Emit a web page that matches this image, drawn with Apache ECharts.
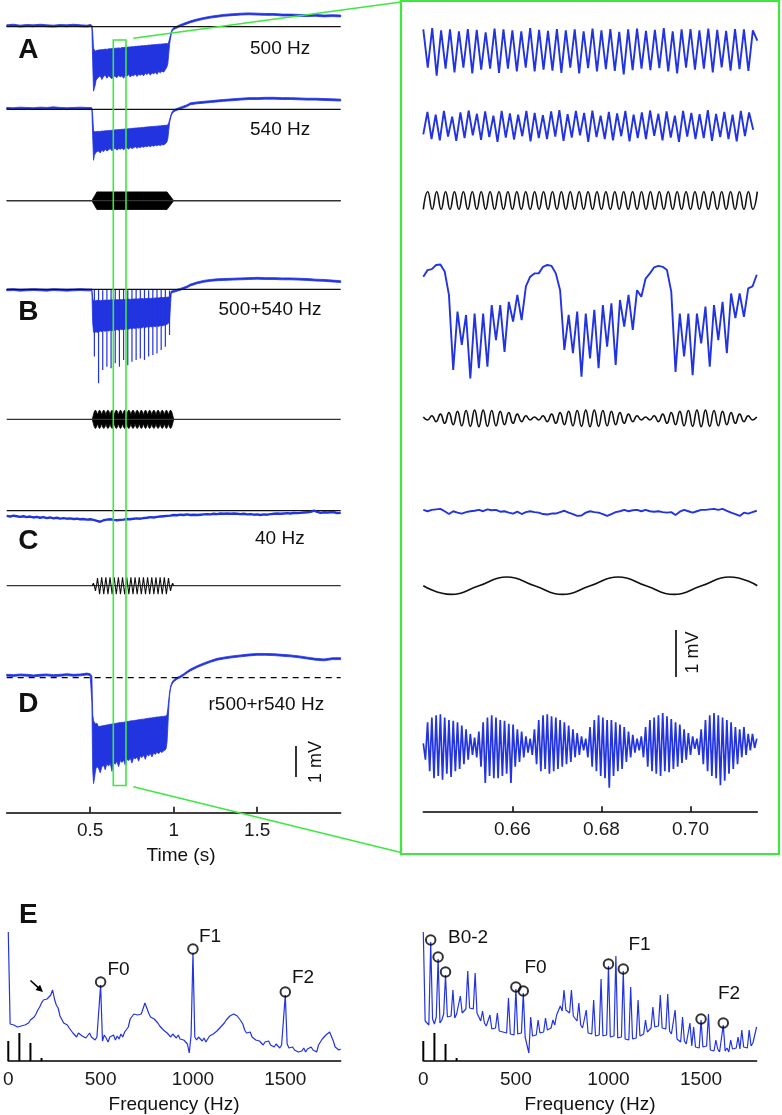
<!DOCTYPE html>
<html>
<head>
<meta charset="utf-8">
<title>Responses to 500 / 540 Hz tones</title>
<script src="https://cdn.jsdelivr.net/npm/echarts@6/dist/echarts.min.js"></script>
<style>
html,body{margin:0;padding:0;background:#fff;}
#chart{width:782px;height:1115px;}
</style>
</head>
<body>
<div id="chart"></div>
<script>
// ======================= DATA =======================
// Whole-trial traces (left column): time in s, voltage in mV re. baseline.
// hi / lo = upper and lower edge of the (dense) trace at each time.
const leftT = [0,0.04,0.08,0.12,0.16,0.2,0.24,0.28,0.32,0.36,0.4,0.44,0.48,0.5,
  0.51,0.515,0.52,0.525,0.53,0.535,0.54,
  0.55,0.56,0.57,0.58,0.59,0.6,0.61,0.62,0.63,0.64,0.65,0.66,0.67,0.68,0.69,0.7,0.71,0.72,0.73,0.74,0.75,0.76,0.77,0.78,0.79,0.8,0.81,0.82,0.83,0.84,0.85,0.86,0.87,0.88,0.89,0.9,0.91,0.92,0.93,0.94,0.95,
  0.955,0.96,0.965,0.97,0.975,0.98,0.985,0.99,
  1,1.02,1.04,1.06,1.08,1.1,1.14,1.18,1.22,1.26,1.3,1.35,1.4,1.45,1.5,1.55,1.6,1.65,1.7,1.75,1.8,1.85,1.9,1.95,2];

const a500Hi = [0.06,0.08,0.05,0.07,0.06,0.08,0.06,0.05,0.07,0.06,0.08,0.06,0.05,0.07,
  0.05,-0.2,-0.7,-0.75,-0.8,-0.78,-0.77,
  -0.76,-0.75,-0.75,-0.74,-0.73,-0.74,-0.72,-0.72,-0.71,-0.71,-0.70,-0.70,-0.69,-0.70,-0.68,-0.68,-0.67,-0.67,-0.66,-0.66,-0.65,-0.65,-0.64,-0.64,-0.63,-0.63,-0.62,-0.62,-0.61,-0.61,-0.60,-0.60,-0.59,-0.59,-0.58,-0.58,-0.57,-0.57,-0.56,-0.56,-0.55,
  -0.55,-0.55,-0.56,-0.5,-0.4,-0.28,-0.18,-0.1,
  -0.03,0.02,0.07,0.11,0.15,0.19,0.25,0.3,0.34,0.37,0.4,0.42,0.44,0.45,0.44,0.43,0.43,0.41,0.41,0.4,0.39,0.4,0.38,0.39,0.38];
const a500Lo = [0,0.02,-0.01,0.01,0,0.02,0,-0.01,0.01,0,0.02,0,-0.01,0.01,
  0,-1.2,-2.1,-2,-1.9,-1.75,-1.7,
  -1.65,-1.60,-1.72,-1.62,-1.58,-1.68,-1.60,-1.64,-1.70,-1.60,-1.62,-1.66,-1.58,-1.64,-1.60,-1.68,-1.58,-1.62,-1.56,-1.64,-1.58,-1.60,-1.55,-1.62,-1.56,-1.58,-1.54,-1.60,-1.52,-1.56,-1.50,-1.58,-1.50,-1.54,-1.48,-1.55,-1.46,-1.50,-1.45,-1.48,-1.40,
  -1.35,-1.3,-1.2,-0.9,-0.6,-0.4,-0.26,-0.16,
  -0.09,-0.04,0.01,0.05,0.09,0.13,0.19,0.24,0.28,0.31,0.34,0.36,0.38,0.39,0.38,0.37,0.37,0.35,0.35,0.34,0.33,0.34,0.32,0.33,0.32];

const a540Hi = [0.06,0.05,0.07,0.06,0.05,0.07,0.06,0.08,0.06,0.05,0.06,0.07,0.06,0.06,
  0.05,-0.2,-0.7,-0.72,-0.73,-0.73,-0.72,
  -0.72,-0.72,-0.71,-0.71,-0.70,-0.70,-0.69,-0.69,-0.68,-0.68,-0.67,-0.67,-0.66,-0.66,-0.65,-0.65,-0.64,-0.64,-0.63,-0.63,-0.62,-0.62,-0.61,-0.61,-0.60,-0.60,-0.59,-0.59,-0.58,-0.58,-0.57,-0.57,-0.56,-0.56,-0.55,-0.55,-0.54,-0.54,-0.53,-0.53,-0.52,
  -0.52,-0.52,-0.5,-0.45,-0.35,-0.25,-0.16,-0.09,
  -0.02,0.03,0.07,0.11,0.15,0.21,0.24,0.26,0.28,0.3,0.32,0.34,0.36,0.38,0.38,0.39,0.39,0.38,0.38,0.37,0.36,0.36,0.35,0.34,0.33];
const a540Lo = [0,-0.01,0.01,0,-0.01,0.01,0,0.02,0,-0.01,0,0.01,0,0,
  0,-0.9,-1.66,-1.5,-1.45,-1.4,-1.38,
  -1.36,-1.42,-1.33,-1.38,-1.30,-1.36,-1.32,-1.28,-1.35,-1.30,-1.27,-1.33,-1.28,-1.30,-1.26,-1.32,-1.27,-1.25,-1.30,-1.24,-1.28,-1.25,-1.22,-1.27,-1.23,-1.25,-1.21,-1.24,-1.20,-1.22,-1.19,-1.22,-1.18,-1.20,-1.17,-1.19,-1.16,-1.18,-1.15,-1.16,-1.12,
  -1.1,-1.05,-0.95,-0.7,-0.45,-0.32,-0.22,-0.15,
  -0.08,-0.03,0.01,0.05,0.09,0.15,0.18,0.2,0.22,0.24,0.26,0.28,0.3,0.32,0.32,0.33,0.33,0.32,0.32,0.31,0.3,0.3,0.29,0.28,0.27];

const bHi = [0.01,0.02,0,0.01,0.02,0.01,0,0.02,0.01,0,0.01,0.02,0.01,0.01,
  0.01,-0.3,-0.38,-0.38,-0.37,-0.37,-0.36,
  -0.36,-0.37,-0.36,-0.36,-0.35,-0.36,-0.35,-0.35,-0.34,-0.35,-0.34,-0.34,-0.34,-0.33,-0.34,-0.33,-0.33,-0.33,-0.32,-0.33,-0.32,-0.32,-0.31,-0.32,-0.31,-0.31,-0.30,-0.31,-0.30,-0.30,-0.29,-0.30,-0.29,-0.29,-0.28,-0.28,-0.28,-0.27,-0.27,-0.27,-0.26,
  -0.26,-0.26,-0.25,-0.25,-0.24,-0.15,-0.06,-0.05,
  -0.04,0,0.03,0.07,0.11,0.17,0.24,0.29,0.32,0.34,0.35,0.36,0.37,0.38,0.39,0.38,0.38,0.37,0.37,0.36,0.35,0.33,0.32,0.3,0.28];
const bLo = [-0.05,-0.04,-0.06,-0.05,-0.04,-0.05,-0.06,-0.04,-0.05,-0.06,-0.05,-0.04,-0.05,-0.05,
  -0.05,-1.1,-1.4,-1.42,-1.4,-1.38,-1.4,
  -1.40,-1.36,-1.38,-1.35,-1.37,-1.34,-1.36,-1.33,-1.35,-1.32,-1.34,-1.31,-1.33,-1.30,-1.32,-1.29,-1.31,-1.28,-1.30,-1.27,-1.29,-1.26,-1.28,-1.25,-1.27,-1.24,-1.26,-1.23,-1.25,-1.22,-1.24,-1.21,-1.23,-1.20,-1.22,-1.19,-1.21,-1.18,-1.20,-1.17,-1.16,
  -1.15,-1.14,-1.12,-1.1,-1,-0.6,-0.15,-0.11,
  -0.1,-0.06,-0.03,0.01,0.05,0.11,0.18,0.23,0.26,0.28,0.29,0.3,0.31,0.32,0.33,0.32,0.32,0.31,0.31,0.3,0.29,0.27,0.26,0.24,0.22];
// B: one deep spike per 40 Hz beat
const bTeethT = [0.525,0.55,0.575,0.6,0.625,0.65,0.675,0.7,0.725,0.75,0.775,0.8,0.825,0.85,0.875,0.9,0.925,0.95,0.975];
const bTeethTop = [-0.02,0,-0.03,-0.01,-0.02,0,-0.02,-0.01,-0.03,-0.02,0,-0.01,-0.02,-0.03,-0.01,-0.02,0,-0.02,-0.04];
const bTeethDeep = [-2.19,-3.06,-2.63,-2.52,-2.57,-2.41,-2.52,-2.30,-2.47,-2.36,-2.30,-2.25,-2.30,-2.19,-2.14,-2.09,-1.98,-1.87,-1.49];

const dHi = [0.11,0.1,0.12,0.11,0.09,0.11,0.12,0.1,0.11,0.13,0.11,0.12,0.15,0.13,
  0.05,-1.2,-1.4,-1.45,-1.5,-1.5,-1.48,
  -1.60,-1.58,-1.57,-1.56,-1.55,-1.54,-1.53,-1.52,-1.51,-1.50,-1.49,-1.48,-1.47,-1.46,-1.46,-1.45,-1.44,-1.43,-1.42,-1.41,-1.40,-1.40,-1.39,-1.38,-1.37,-1.36,-1.35,-1.35,-1.34,-1.33,-1.32,-1.31,-1.31,-1.30,-1.29,-1.28,-1.28,-1.27,-1.26,-1.26,-1.25,
  -1.25,-1.2,-1,-0.75,-0.5,-0.32,-0.22,-0.15,
  -0.07,0.01,0.06,0.13,0.21,0.28,0.39,0.48,0.56,0.63,0.67,0.71,0.74,0.77,0.79,0.79,0.78,0.76,0.74,0.71,0.67,0.63,0.61,0.65,0.65];
const dLo = [0.05,0.04,0.06,0.05,0.03,0.05,0.06,0.04,0.05,0.07,0.05,0.06,0.09,0.07,
  -0.8,-3,-3.45,-3.3,-3.1,-2.95,-2.9,
  -2.95,-3.10,-2.90,-2.85,-3.00,-2.80,-2.88,-2.78,-3.05,-2.75,-2.82,-2.72,-2.90,-2.70,-2.76,-2.68,-2.85,-2.66,-2.70,-2.62,-2.78,-2.60,-2.65,-2.58,-2.72,-2.55,-2.60,-2.52,-2.66,-2.50,-2.55,-2.47,-2.58,-2.45,-2.50,-2.42,-2.48,-2.40,-2.44,-2.38,-2.35,
  -2.3,-2.1,-1.6,-1,-0.6,-0.38,-0.28,-0.21,
  -0.13,-0.05,0,0.07,0.15,0.22,0.33,0.42,0.5,0.57,0.61,0.65,0.68,0.71,0.73,0.73,0.72,0.7,0.68,0.65,0.61,0.57,0.55,0.59,0.59];

// C (40 Hz): slow trace sampled every 20 ms from t = 0
const cStep = 0.02;
const cTrace = [-0.17,-0.19,-0.16,-0.18,-0.20,-0.18,-0.21,-0.19,-0.22,-0.20,
  -0.23,-0.21,-0.24,-0.22,-0.25,-0.23,-0.26,-0.24,-0.26,-0.25,
  -0.27,-0.26,-0.28,-0.27,-0.29,-0.28,-0.30,-0.33,-0.36,-0.31,
  -0.29,-0.28,-0.30,-0.31,-0.30,-0.29,-0.27,-0.28,-0.26,-0.25,
  -0.26,-0.24,-0.23,-0.21,-0.22,-0.20,-0.19,-0.18,-0.17,-0.16,
  -0.14,-0.15,-0.13,-0.14,-0.12,-0.14,-0.13,-0.14,-0.13,-0.12,
  -0.11,-0.12,-0.10,-0.11,-0.09,-0.10,-0.09,-0.10,-0.09,-0.10,
  -0.11,-0.10,-0.12,-0.11,-0.13,-0.12,-0.14,-0.12,-0.13,-0.11,
  -0.10,-0.09,-0.10,-0.09,-0.08,-0.09,-0.07,-0.08,-0.07,-0.06,
  -0.05,-0.04,0.00,-0.04,-0.07,-0.05,-0.06,-0.05,-0.05,-0.08,-0.07];

// Stimulus waveforms (arbitrary units)
const stimAT = [0,0.51,0.54,0.96,1.0,2.0];
const stimAEnv = [0,0,1,1,0,0];
const stimBT0 = 0.5125, stimBStep = 0.00625;
const stimBEnv = [0,
  0.45,0.85,1,0.85, 0.45,0.85,1,0.85, 0.45,0.85,1,0.85, 0.45,0.85,1,0.85, 0.45,0.85,1,0.85,
  0.45,0.85,1,0.85, 0.45,0.85,1,0.85, 0.45,0.85,1,0.85, 0.45,0.85,1,0.85, 0.45,0.85,1,0.85,
  0.45,0.85,1,0.85, 0.45,0.85,1,0.85, 0.45,0.85,1,0.85, 0.45,0.85,1,0.85, 0.45,0.85,1,0.85,
  0.45,0.85,1,0.85, 0.45,0.85,1,0.85, 0.45,0.85,1,0.85, 0.45,0.85,1,0.85,
  0.45,0];
const stimCT0 = 0.5125, stimCStep = 0.00625;
const stimCWave = [0,0.3,0,-0.6,0,0.9,0,-1,0,1,0,-1,0,1,0,-1,0,1,0,-1,0,1,0,-1,0,1,0,-1,0,1,0,-1,0,1,0,-1,0,1,0,-1,
  0,1,0,-1,0,1,0,-1,0,1,0,-1,0,1,0,-1,0,1,0,-1,0,1,0,-1,0,1,0,-1,0,1,0,-1,0,0.9,0,-0.6,0,0.3,0];

// Zoomed window (right column), starting at 0.640 s
const zoomT0 = 0.640;
const zA500Step = 0.001;
const zA500 = [0.44,-0.38,0.47,-0.55,0.42,-0.40,0.44,-0.48,0.40,-0.38,0.45,-0.50,0.43,-0.42,0.38,-0.40,0.46,-0.49,0.44,-0.40,
  0.42,-0.46,0.40,-0.38,0.47,-0.46,0.43,-0.42,0.41,-0.44,0.45,-0.49,0.42,-0.38,0.44,-0.50,0.40,-0.39,0.46,-0.46,
  0.42,-0.41,0.45,-0.45,0.39,-0.52,0.44,-0.43,0.46,-0.40,0.41,-0.43,0.43,-0.39,0.47,-0.46,0.40,-0.50,0.44,-0.38,
  0.45,-0.42,0.42,-0.40,0.46,-0.48,0.43,-0.37,0.41,-0.44,0.45,-0.41,0.44,-0.45,0.42,0.2];
const zA540Step = 0.000926;
const zA540 = [-0.20,0.28,-0.30,0.22,-0.33,0.30,-0.25,0.18,-0.34,0.27,-0.28,0.31,-0.22,0.24,-0.32,0.29,-0.26,0.20,-0.36,0.30,
  -0.27,0.25,-0.31,0.22,-0.24,0.30,-0.35,0.26,-0.28,0.21,-0.30,0.29,-0.25,0.32,-0.34,0.23,-0.27,0.30,-0.22,0.26,
  -0.36,0.31,-0.26,0.20,-0.30,0.28,-0.33,0.25,-0.24,0.30,-0.35,0.22,-0.28,0.27,-0.30,0.31,-0.23,0.24,-0.33,0.29,
  -0.27,0.20,-0.36,0.30,-0.25,0.26,-0.30,0.23,-0.28,0.32,-0.34,0.24,-0.26,0.28,-0.30,0.22,-0.35,0.30,-0.24,0.27,-0.1];
const zStimAStep = 0.001;
const zStimA = [-1,1,-1,1,-1,1,-1,1,-1,1,-1,1,-1,1,-1,1,-1,1,-1,1,-1,1,-1,1,-1,1,-1,1,-1,1,-1,1,-1,1,-1,1,-1,1,
  -1,1,-1,1,-1,1,-1,1,-1,1,-1,1,-1,1,-1,1,-1,1,-1,1,-1,1,-1,1,-1,1,-1,1,-1,1,-1,1,-1,1,-1,1,-1,1];
const zBStep = 0.00096;
const zB = [0.50,0.64,0.66,0.75,0.76,0.61,0.11,-1.50,-0.25,-0.96,
  -0.32,-1.68,-0.29,-1.46,-0.29,-1.43,-0.11,-0.86,-0.11,-1.11,
  -0.04,-0.46,0.11,-0.43,0.29,0.50,0.57,0.57,0.71,0.75,
  0.73,0.57,0.21,-1.07,-0.32,-1.14,-0.25,-1.64,-0.29,-1.25,
  -0.21,-1.46,-0.11,-1.00,-0.07,-1.39,0.00,-0.57,0.11,-0.64,
  0.21,0.07,0.46,0.57,0.70,0.73,0.71,0.64,0.18,-1.54,
  -0.29,-1.21,-0.29,-1.61,-0.29,-0.93,-0.14,-1.43,-0.11,-0.86,
  -0.04,-1.14,0.14,-0.39,0.14,-0.36,0.25,0.29,0.54];
const zStimBStep = 0.00096;
const zStimB = [0.15,-0.2,0.3,-0.4,0.5,-0.6,0.68,-0.76,0.83,-0.9,0.94,-0.97,0.99,-1,0.99,-0.97,0.94,-0.9,0.83,-0.76,0.68,-0.6,0.5,-0.4,0.3,-0.2,
  0.15,-0.2,0.3,-0.4,0.5,-0.6,0.68,-0.76,0.83,-0.9,0.94,-0.97,0.99,-1,0.99,-0.97,0.94,-0.9,0.83,-0.76,0.68,-0.6,0.5,-0.4,0.3,-0.2,
  0.15,-0.2,0.3,-0.4,0.5,-0.6,0.68,-0.76,0.83,-0.9,0.94,-0.97,0.99,-1,0.99,-0.97,0.94,-0.9,0.83,-0.76,0.68,-0.6,0.5,-0.4,0.3,-0.2,
  0.15];
const zCStep = 0.00096;
const zC = [0.04,0.01,0.04,0.05,0.06,0.01,-0.05,0.01,-0.02,-0.04,
  -0.01,0.01,0.02,0.04,0.01,0.05,0.03,0.04,0.00,0.01,
  -0.02,-0.04,0.00,-0.05,-0.01,0.01,-0.01,-0.02,-0.05,-0.06,
  -0.04,-0.04,-0.01,0.02,-0.02,-0.05,-0.09,-0.08,-0.02,0.01,
  -0.01,-0.02,-0.05,-0.09,-0.05,-0.01,0.01,0.04,0.01,0.03,
  0.04,0.01,0.04,0.01,0.00,0.01,-0.01,-0.02,-0.01,-0.07,
  0.00,0.04,0.01,-0.02,0.01,0.04,0.04,0.05,0.06,0.04,
  0.06,0.02,-0.02,-0.05,-0.09,-0.02,-0.04,-0.01,0.02];
const zStimCStep = 0.00625;
const zStimC = [0,-1,0,1,0,-1,0,1,0,-1,0,1,0];
const zDStep = 0.00048;
const zD = [0.0,-0.35,0.45,-0.6,0.55,-0.75,0.6,-0.7,0.62,-0.78,
  0.55,-0.65,0.5,-0.72,0.48,-0.6,0.45,-0.55,0.38,-0.45,
  0.3,-0.35,0.2,-0.25,0.12,-0.3,0.25,-0.5,0.45,-0.85,
  0.55,-0.7,0.6,-0.75,0.55,-0.75,0.5,-0.7,0.48,-0.65,
  0.42,-0.85,0.4,-0.5,0.3,-0.4,0.25,-0.3,0.15,-0.2,
  0.1,-0.25,0.3,-0.45,0.5,-0.6,0.6,-0.55,0.62,-0.65,
  0.58,-0.6,0.55,-0.55,0.5,-0.5,0.45,-0.45,0.38,-0.4,
  0.3,-0.3,0.22,-0.25,0.15,-0.15,0.1,-0.3,0.35,-0.5,
  0.5,-0.6,0.6,-0.7,0.55,-0.75,0.5,-0.95,0.5,-0.7,
  0.45,-0.6,0.4,-0.55,0.35,-0.4,0.25,-0.3,0.18,-0.2,
  0.1,-0.15,0.15,-0.3,0.35,-0.5,0.5,-0.6,0.55,-0.65,
  0.6,-0.7,0.65,-0.6,0.58,-0.62,0.52,-0.55,0.45,-0.5,
  0.4,-0.42,0.3,-0.35,0.22,-0.25,0.15,-0.12,0.1,-0.25,
  0.3,-0.45,0.5,-0.6,0.6,-0.7,0.65,-0.75,0.6,-0.9,
  0.55,-0.8,0.5,-0.65,0.45,-0.55,0.35,-0.45,0.3,-0.3,
  0.35,-0.25,0.2,-0.15,0.2,-0.1,0.1];

// Spectra (relative level), every 10 Hz from 0 to 1800 Hz
const freqStep = 10;
const specLeft = [129,37,36,36,35,34,33,35,34,36,
  35,38,41,39,44,47,51,54,58,61,
  59,62,63,66,71,62,56,53,45,43,
  38,39,36,33,31,28,27,24,28,26,
  25,27,23,25,28,24,26,21,24,22,
  76,20,26,23,19,24,22,26,21,25,
  22,27,24,29,31,34,42,44,47,45,
  46,44,47,49,58,53,48,44,46,42,
  40,38,35,33,31,29,28,26,24,27,
  25,23,26,22,24,21,23,17,8,26,
  108,24,21,24,22,20,23,19,22,25,
  24,27,29,30,31,34,36,38,41,43,
  45,44,47,49,45,44,40,37,31,28,
  26,29,24,25,21,23,20,22,16,19,
  17,20,16,18,14,17,15,13,16,15,
  66,17,13,12,14,11,12,9,11,10,
  13,9,12,10,14,11,13,9,16,19,
  22,24,26,25,29,31,20,14,12,11,
  12];
const specRight = [129,40,38,36,119,42,37,44,102,38,
  41,47,86,44,46,45,71,43,47,45,
  65,48,50,52,90,53,55,52,88,48,
  44,40,50,38,35,33,46,32,31,33,
  48,30,32,29,30,28,63,27,29,26,
  72,27,25,28,68,24,22,8,44,25,
  27,26,41,28,30,29,43,31,30,33,
  41,36,46,45,55,50,71,51,49,48,
  71,45,43,40,58,36,33,31,51,28,
  26,27,61,25,24,26,82,25,23,26,
  95,24,22,25,105,23,21,24,90,22,
  23,21,74,22,24,23,61,25,24,27,
  41,29,31,33,54,34,36,35,66,33,
  35,32,67,30,27,25,51,22,21,19,
  44,20,17,19,38,15,34,14,16,13,
  41,14,12,15,47,11,13,10,21,12,
  9,11,36,10,13,9,21,12,10,13,
  24,12,31,14,16,13,31,15,18,17,
  34];
const peakLeftF = [500,1000,1500];
const peakLeftV = [79,112,69];
const peakRightF = [40,80,120,500,540,1000,1080,1500,1620];
const peakRightV = [121,104,89,74,70,97,92,42,38];
const stickF = [0,60,120,180];
const stickLeftV = [20,28,18,3];
const stickRightV = [20,28,17,3];

const timeTicks = [0.5,1,1.5];
const zoomTicks = [0.66,0.68,0.70];
const freqTicks = [0,500,1000,1500];

// ======================= LAYOUT / STYLE =======================
const FONT = '"Liberation Sans", Arial, Helvetica, sans-serif';
const BLUE = '#2233e0';
const BLACK = '#111';
const GREEN = '#3ee83e';
const PX_L = 30.7;   // px per mV, left column
const PX_R = 46.7;   // px per mV, right column
const LCOL = {left: 6.7, width: 334, min: 0, max: 2};
const RCOL = {left: 423.3, width: 334, min: 0.640, max: 0.715};

const grids = [], xAxes = [], yAxes = [], series = [];

function addPanel(col, yc, ppu, up, down) {
  const gi = grids.length;
  grids.push({left: col.left, width: col.width, top: yc - up, height: up + down});
  xAxes.push({gridIndex: gi, type: 'value', min: col.min, max: col.max, show: false});
  yAxes.push({gridIndex: gi, type: 'value', min: -down / ppu, max: up / ppu, show: false});
  return gi;
}
function seq(t0, dt, arr) { return arr.map((v, i) => [t0 + i * dt, v]); }
function lineS(gi, data, color, width, extra) {
  series.push(Object.assign({
    type: 'line', xAxisIndex: gi, yAxisIndex: gi, data: data, symbol: 'none',
    silent: true, animation: false, clip: false,
    lineStyle: {color: color, width: width}
  }, extra || {}));
}
function bandS(gi, ts, hi, lo, color, sw) {
  series.push({
    type: 'custom', xAxisIndex: gi, yAxisIndex: gi, silent: true, animation: false,
    data: [[ts[0], hi[0]]], encode: {x: 0, y: 1},
    renderItem: function (p, api) {
      const up = ts.map((t, i) => api.coord([t, hi[i]]));
      const dn = ts.map((t, i) => api.coord([t, lo[i]])).reverse();
      return {type: 'polygon', shape: {points: up.concat(dn)},
        style: {fill: color, stroke: color, lineWidth: sw}};
    }
  });
}
function segS(gi, data, color, width) {
  // data: [x, yFrom, yTo]
  series.push({
    type: 'custom', xAxisIndex: gi, yAxisIndex: gi, silent: true, animation: false,
    data: data, encode: {x: 0, y: [1, 2]},
    renderItem: function (p, api) {
      const a = api.coord([api.value(0), api.value(1)]);
      const b = api.coord([api.value(0), api.value(2)]);
      return {type: 'line', shape: {x1: a[0], y1: a[1], x2: b[0], y2: b[1]},
        style: {stroke: color, lineWidth: width}};
    }
  });
}

// ---------- left column ----------
let g;
g = addPanel(LCOL, 26.7, PX_L, 26, 80);           // A 500 Hz
lineS(g, [[0, 0], [2, 0]], BLACK, 1.2);
bandS(g, leftT, a500Hi, a500Lo, BLUE, 0.8);

g = addPanel(LCOL, 109.3, PX_L, 40, 60);          // A 540 Hz
lineS(g, [[0, 0], [2, 0]], BLACK, 1.2);
bandS(g, leftT, a540Hi, a540Lo, BLUE, 0.8);

g = addPanel(LCOL, 200.7, 8.8, 20, 20);           // A stimulus
lineS(g, [[0, 0], [2, 0]], '#333', 1.2);
bandS(g, stimAT, stimAEnv, stimAEnv.map(v => -v), '#000', 0.8);

g = addPanel(LCOL, 289.3, PX_L, 30, 110);         // B
lineS(g, [[0, 0], [2, 0]], BLACK, 1.2);
bandS(g, leftT, bHi, bLo, BLUE, 0.8);
segS(g, bTeethT.map((t, i) => [t, bTeethTop[i], bTeethDeep[i]]), BLUE, 1.2);

g = addPanel(LCOL, 419.3, 9.2, 20, 20);           // B stimulus
lineS(g, [[0, 0], [2, 0]], '#333', 1.2);
bandS(g, stimBEnv.map((v, i) => stimBT0 + i * stimBStep), stimBEnv, stimBEnv.map(v => -v), '#000', 0.8);

g = addPanel(LCOL, 510.7, PX_L, 30, 30);          // C
lineS(g, [[0, 0], [2, 0]], BLACK, 1.2);
lineS(g, seq(0, cStep, cTrace), BLUE, 2.4);

g = addPanel(LCOL, 585.7, 8.5, 20, 20);           // C stimulus
lineS(g, [[0, 0], [2, 0]], '#333', 1.2);
lineS(g, seq(stimCT0, stimCStep, stimCWave), '#111', 1.1);

g = addPanel(LCOL, 677.7, PX_L, 40, 120);         // D
bandS(g, leftT, dHi, dLo, BLUE, 0.8);
lineS(g, [[0, 0], [2, 0]], '#000', 1.3, {lineStyle: {color: '#000', width: 1.3, type: [6, 5]}});

// ---------- right column (zoom) ----------
g = addPanel(RCOL, 50, PX_R, 40, 40);
lineS(g, seq(zoomT0, zA500Step, zA500), BLUE, 1.9);
g = addPanel(RCOL, 125, PX_R, 30, 30);
lineS(g, seq(zoomT0, zA540Step, zA540), BLUE, 1.9);
g = addPanel(RCOL, 200.5, 8.8, 15, 15);
lineS(g, seq(zoomT0, zStimAStep, zStimA), BLACK, 1.6, {smooth: 0.5});
g = addPanel(RCOL, 300, PX_R, 60, 100);
lineS(g, seq(zoomT0, zBStep, zB), BLUE, 1.9);
g = addPanel(RCOL, 418.3, 8.3, 15, 15);
lineS(g, seq(zoomT0, zStimBStep, zStimB), BLACK, 1.6, {smooth: 0.5});
g = addPanel(RCOL, 511.7, PX_R, 20, 20);
lineS(g, seq(zoomT0, zCStep, zC), BLUE, 1.9);
g = addPanel(RCOL, 585.7, 8.7, 15, 15);
lineS(g, seq(zoomT0, zStimCStep, zStimC), BLACK, 1.6, {smooth: 0.5});
g = addPanel(RCOL, 743.3, PX_R, 50, 50);
lineS(g, seq(zoomT0, zDStep, zD), BLUE, 1.7);

// ---------- visible time axes ----------
const axisLineStyle = {color: '#000', width: 1.5};
const labelStyle = {fontFamily: FONT, fontSize: 19, color: '#1a1a1a', margin: 9};
function axisGrid(col, bottomY, ticks, fmt) {
  const gi = grids.length;
  grids.push({left: col.left, width: col.width, top: bottomY - 100, height: 100});
  xAxes.push({gridIndex: gi, type: 'value', min: col.min, max: col.max,
    axisLine: {show: true, onZero: false, lineStyle: axisLineStyle},
    axisTick: {show: true, inside: true, length: 5.5, customValues: ticks, lineStyle: axisLineStyle},
    axisLabel: Object.assign({customValues: ticks, formatter: fmt}, labelStyle),
    splitLine: {show: false}});
  yAxes.push({gridIndex: gi, type: 'value', min: 0, max: 1, show: false});
  return gi;
}
axisGrid(LCOL, 812.3, timeTicks, v => String(v));
axisGrid(RCOL, 811.7, zoomTicks, v => v.toFixed(2));

// ---------- spectra ----------
function specPanel(left, width, spec, pf, pv, sv) {
  const gi = grids.length;
  grids.push({left: left, width: width, top: 931, height: 130});
  xAxes.push({gridIndex: gi, type: 'value', min: 0, max: 1800,
    axisLine: {show: true, onZero: false, lineStyle: axisLineStyle},
    axisTick: {show: false},
    axisLabel: Object.assign({customValues: freqTicks, formatter: v => String(Math.round(v))}, labelStyle),
    splitLine: {show: false}});
  yAxes.push({gridIndex: gi, type: 'value', min: 0, max: 130, show: false});
  lineS(gi, spec.map((v, i) => [i * freqStep, v]), BLUE, 1.2);
  segS(gi, stickF.map((f, i) => [f, 0, sv[i]]), '#000', 2);
  series.push({type: 'scatter', xAxisIndex: gi, yAxisIndex: gi, silent: true, animation: false,
    data: pf.map((f, i) => [f, pv[i]]), symbol: 'circle', symbolSize: 9.5,
    itemStyle: {color: 'rgba(0,0,0,0)', borderColor: '#000', borderWidth: 2}, z: 5});
}
specPanel(7.5, 333.2, specLeft, peakLeftF, peakLeftV, stickLeftV);
specPanel(423.3, 333.3, specRight, peakRightF, peakRightV, stickRightV);

// ---------- annotations ----------
function txt(s, x, y, size, opts) {
  return Object.assign({type: 'text', x: x, y: y, z: 50,
    style: Object.assign({text: s, font: (opts && opts.bold ? 'bold ' : '') + size + 'px ' + FONT,
      fill: '#111', align: (opts && opts.align) || 'left', verticalAlign: 'middle'})},
    (opts && opts.rot) ? {rotation: opts.rot} : {});
}
const graphics = [
  // zoom frame and connectors
  {type: 'rect', z: 100, shape: {x: 401, y: 1, width: 378, height: 853}, style: {fill: 'none', stroke: GREEN, lineWidth: 2.2}},
  {type: 'rect', z: 100, shape: {x: 113.3, y: 40, width: 12.7, height: 745.5}, style: {fill: 'none', stroke: GREEN, lineWidth: 1.6}},
  {type: 'line', z: 100, shape: {x1: 133.3, y1: 38.3, x2: 401, y2: 2}, style: {stroke: GREEN, lineWidth: 1.6}},
  {type: 'line', z: 100, shape: {x1: 133.3, y1: 786.7, x2: 401, y2: 852.5}, style: {stroke: GREEN, lineWidth: 1.6}},
  // scale bars
  {type: 'line', z: 50, shape: {x1: 296, y1: 746, x2: 296, y2: 777}, style: {stroke: '#000', lineWidth: 1.6}},
  txt('1 mV', 316.5, 762, 18, {align: 'center', rot: Math.PI / 2}),
  {type: 'line', z: 50, shape: {x1: 676, y1: 630, x2: 676, y2: 677}, style: {stroke: '#000', lineWidth: 1.6}},
  txt('1 mV', 693.5, 652.5, 18, {align: 'center', rot: Math.PI / 2}),
  // panel letters
  txt('A', 28.3, 50, 28, {bold: true, align: 'center'}),
  txt('B', 28.3, 312, 28, {bold: true, align: 'center'}),
  txt('C', 28.3, 541, 28, {bold: true, align: 'center'}),
  txt('D', 28.3, 704.5, 28, {bold: true, align: 'center'}),
  txt('E', 28.3, 915.5, 28, {bold: true, align: 'center'}),
  // condition labels
  txt('500 Hz', 250, 48.5, 19),
  txt('540 Hz', 250, 130, 19),
  txt('500+540 Hz', 218.5, 310, 19),
  txt('40 Hz', 255, 538.5, 19),
  txt('r500+r540 Hz', 208.5, 705, 19),
  // axis titles
  txt('Time (s)', 181, 856, 19, {align: 'center'}),
  txt('Frequency (Hz)', 174, 1105, 19, {align: 'center'}),
  txt('Frequency (Hz)', 590, 1105, 19, {align: 'center'}),
  // spectral peak labels
  txt('F0', 107.5, 970, 19),
  txt('F1', 199, 937, 19),
  txt('F2', 292, 977.5, 19),
  txt('B0-2', 448, 937.5, 19),
  txt('F0', 524.5, 967.5, 19),
  txt('F1', 628.5, 945, 19),
  txt('F2', 718, 993.5, 19),
  // arrow
  {type: 'line', z: 50, shape: {x1: 30.5, y1: 980.5, x2: 38.5, y2: 987.8}, style: {stroke: '#000', lineWidth: 1.6}},
  {type: 'polygon', z: 50, shape: {points: [[43, 992], [35.5, 989.9], [40.1, 984.7]]}, style: {fill: '#000'}}
];

const chart = echarts.init(document.getElementById('chart'), null, {renderer: 'canvas'});
chart.setOption({
  backgroundColor: '#fff',
  animation: false,
  grid: grids,
  xAxis: xAxes,
  yAxis: yAxes,
  series: series,
  graphic: graphics
});
</script>
</body>
</html>
